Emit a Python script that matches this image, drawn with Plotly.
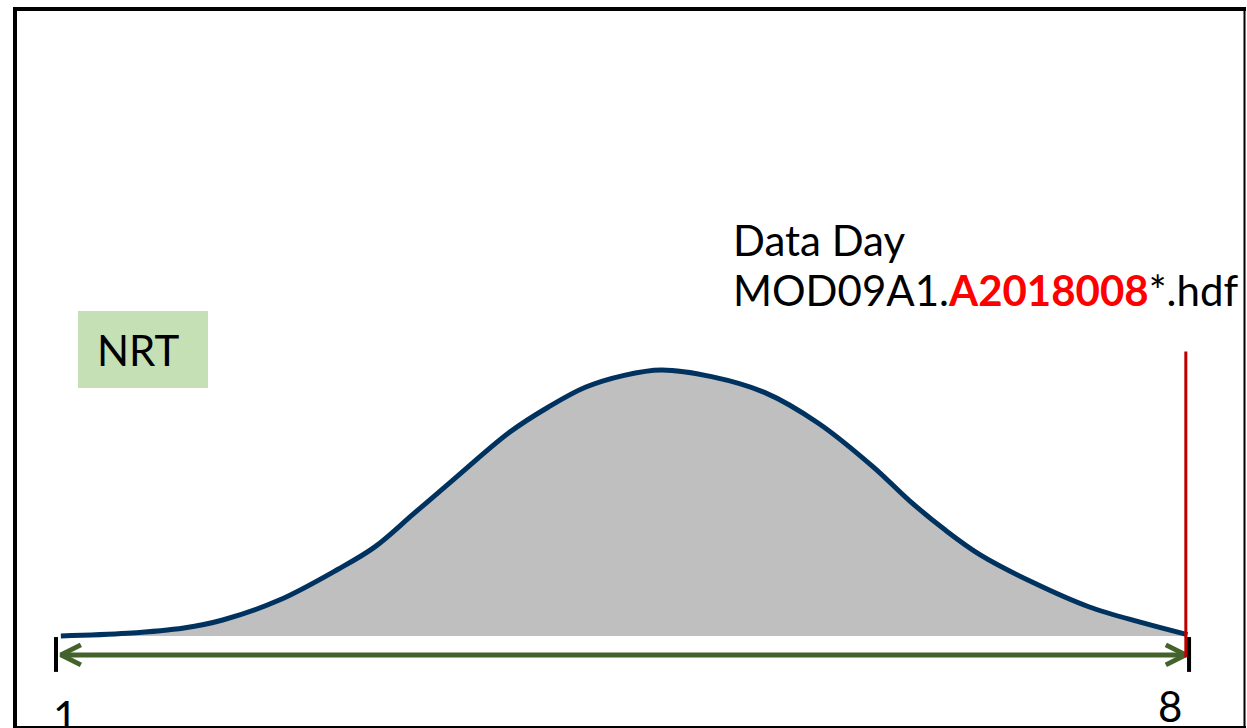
import plotly.graph_objects as go

# ---- data ----
days = [1.03, 1.44, 1.79, 2.03, 2.38, 2.74, 2.97, 3.21, 3.45, 3.80, 4.04, 4.27,
        4.51, 4.74, 5.05, 5.38, 5.71, 6.05, 6.27, 6.49, 6.71, 7.04, 7.38, 7.71, 7.99]
heights = [0.00, 0.01, 0.03, 0.06, 0.135, 0.25, 0.335, 0.46, 0.585, 0.765, 0.86, 0.935,
           0.98, 1.00, 0.975, 0.915, 0.80, 0.635, 0.51, 0.40, 0.305, 0.20, 0.11, 0.05, 0.005]

end_days = [1, 8]
end_labels = ["1", "8"]
arrow_span = [1.03, 7.98]
arrow_level = -0.071
tick_span = [-0.135, -0.004]
data_day = 7.98
data_day_span = [-0.08, 1.07]

line1 = "Data Day"
line2 = 'MOD09A1.<span style="color:#FF0000"><b>A2018008</b></span>*.hdf'
nrt_label = "NRT"

# ---- canvas geometry ----
W, H = 1247, 728
X_RANGE = [0.654, 8.358]
Y_RANGE = [-0.3459, 2.391]
FONT = "Lato"

def px(x):
    return x / W

def py(y):
    return 1 - y / H

# chevron sizes in data units
dx = 20 / ((W) / (X_RANGE[1] - X_RANGE[0]))
dy = 10 / ((H) / (Y_RANGE[1] - Y_RANGE[0]))

fig = go.Figure()

# bell curve
fig.add_trace(go.Scatter(
    x=days, y=heights, mode="lines", line=dict(color="#00325F", width=5, shape="spline"),
    fill="tozeroy", fillcolor="#BFBFBF", hoverinfo="skip"))

# end ticks
for d in end_days:
    fig.add_trace(go.Scatter(x=[d, d], y=tick_span, mode="lines",
                             line=dict(color="black", width=4), hoverinfo="skip"))

# green double arrow
green = "#44632A"
fig.add_trace(go.Scatter(x=arrow_span, y=[arrow_level, arrow_level], mode="lines",
                         line=dict(color=green, width=5), hoverinfo="skip"))
a0, a1 = arrow_span
fig.add_trace(go.Scatter(
    x=[a0 + dx, a0, a0 + dx, None, a1 - dx, a1, a1 - dx],
    y=[arrow_level + dy, arrow_level, arrow_level - dy, None,
       arrow_level + dy, arrow_level, arrow_level - dy],
    mode="lines", line=dict(color=green, width=5), hoverinfo="skip"))

# red data-day line
fig.add_trace(go.Scatter(x=[data_day, data_day], y=data_day_span, mode="lines",
                         line=dict(color="#C00000", width=3), hoverinfo="skip"))

shapes = [
    # NRT box
    dict(type="rect", xref="paper", yref="paper", x0=px(78), x1=px(208), y0=py(388), y1=py(311),
         fillcolor="#C5E0B4", line=dict(width=0), layer="below"),
    # frame
    dict(type="line", xref="paper", yref="paper", x0=px(13), x1=px(1246), y0=py(9), y1=py(9),
         line=dict(color="black", width=4)),
    dict(type="line", xref="paper", yref="paper", x0=px(15), x1=px(15), y0=py(7), y1=py(728),
         line=dict(color="black", width=4)),
    dict(type="line", xref="paper", yref="paper", x0=px(1244.5), x1=px(1244.5), y0=py(7), y1=py(728),
         line=dict(color="black", width=2)),
    dict(type="line", xref="paper", yref="paper", x0=px(13), x1=px(1246), y0=py(727), y1=py(727),
         line=dict(color="black", width=2)),
]

annotations = [
    dict(text=nrt_label, xref="paper", yref="paper", x=px(138), y=py(350),
         xanchor="center", yanchor="middle", showarrow=False,
         font=dict(family=FONT, size=42, color="black")),
    dict(text=line1, xref="paper", yref="paper", x=px(731), y=py(240),
         xanchor="left", yanchor="middle", showarrow=False,
         font=dict(family=FONT, size=42, color="black")),
    dict(text=line2, xref="paper", yref="paper", x=px(731), y=py(290),
         xanchor="left", yanchor="middle", showarrow=False,
         font=dict(family=FONT, size=42, color="black")),
    dict(text=end_labels[0], x=end_days[0], xref="x", xshift=9, yref="paper", y=py(716),
         xanchor="center", yanchor="middle", showarrow=False,
         font=dict(family=FONT, size=42, color="black")),
    dict(text=end_labels[1], x=end_days[1], xref="x", xshift=-19, yref="paper", y=py(706),
         xanchor="center", yanchor="middle", showarrow=False,
         font=dict(family=FONT, size=42, color="black")),
]

fig.update_layout(
    width=W, height=H, margin=dict(l=0, r=0, t=0, b=0),
    paper_bgcolor="white", plot_bgcolor="white", showlegend=False,
    xaxis=dict(range=X_RANGE, visible=False, fixedrange=True),
    yaxis=dict(range=Y_RANGE, visible=False, fixedrange=True),
    shapes=shapes, annotations=annotations,
)

fig.write_html(
    "out.html",
    config={"displayModeBar": False},
    post_script="document.body.style.margin='0';document.body.style.overflow='hidden';",
)
